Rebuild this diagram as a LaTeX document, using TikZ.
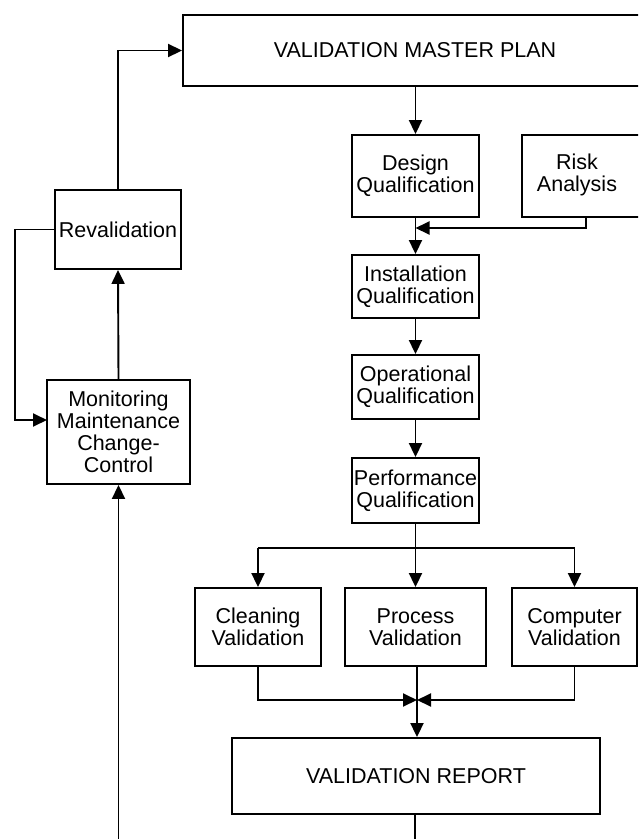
\documentclass[tikz,border=0pt]{standalone}
\usepackage{fontspec}
\setmainfont{Liberation Sans}
\usetikzlibrary{arrows.meta,calc}
\begin{document}
\begin{tikzpicture}[x=1pt,y=-1pt,
  box/.style={draw, line width=1.9pt, inner sep=0pt, align=center,
    font=\fontsize{21.5pt}{22pt}\selectfont},
  lbl/.style={inner sep=0pt, align=center, font=\fontsize{21.5pt}{22pt}\selectfont},
  ln/.style={line width=1.9pt},
  arr/.style={ln, -{Triangle[length=14pt,width=13pt]}}]
\useasboundingbox (0,0) rectangle (638,839);
\clip (0,0) rectangle (638,839);
% boxes
\node[box, minimum width=464pt, minimum height=71pt] (vmp) at (415,50.5) {VALIDATION MASTER PLAN};
\node[box, minimum width=127pt, minimum height=82pt] (design) at (415.5,176) {Design\\Qualification};
\node[box, minimum width=128pt, minimum height=82pt] (risk) at (586,176) {};
\node[lbl] (risktext) at (577,175) {Risk\\Analysis};
\node[box, minimum width=127pt, minimum height=63pt] (install) at (415.5,286.5) {Installation\\Qualification};
\node[box, minimum width=127pt, minimum height=64pt] (oper) at (415.5,387) {Operational\\Qualification};
\node[box, minimum width=127pt, minimum height=65pt] (perf) at (415.5,490.5) {Performance\\Qualification};
\node[box, minimum width=126pt, minimum height=78pt] (clean) at (258,627) {Cleaning\\Validation};
\node[box, minimum width=141pt, minimum height=78pt] (process) at (415.5,627) {Process\\Validation};
\node[box, minimum width=125pt, minimum height=78pt] (computer) at (574.5,627) {Computer\\Validation};
\node[box, minimum width=368pt, minimum height=76pt] (report) at (416,776) {VALIDATION REPORT};
\node[box, minimum width=143pt, minimum height=104pt] (monitor) at (118.5,432) {Monitoring\\Maintenance\\Change-\\Control};
\node[box, minimum width=126pt, minimum height=79pt] (reval) at (118,229.5) {Revalidation};
% helper coordinates
\coordinate (rj) at (415.5,228);
\coordinate (split) at (415.5,548);
\coordinate (merge) at (417,700);
\coordinate (loopR) at (415,860);
\coordinate (monIn) at (47,420);
\coordinate (revOut) at (15,229.5);
% main chain
\draw[arr] (vmp.south -| design.north) -- (design.north);
\draw[arr] (design.south) -- (install.north);
\draw[arr] (risk.south) |- (rj);
\draw[arr] (install.south) -- (oper.north);
\draw[arr] (oper.south) -- (perf.north);
\draw[ln] (perf.south) -- (split);
\draw[ln] (split -| clean.north) -- (split -| computer.north);
\draw[arr] (split -| clean.north) -- (clean.north);
\draw[arr] (split) -- (process.north);
\draw[arr] (split -| computer.north) -- (computer.north);
\draw[arr] (clean.south) |- (merge);
\draw[arr] (computer.south) |- (merge);
\draw[arr] (process.south -| merge) -- (merge |- report.north);
% feedback loop
\draw[arr] (report.south -| loopR) -- (loopR) -| (monitor.south);
\draw[arr] (monitor.north) -- (reval.south);
\draw[arr] (reval.north) |- (vmp.west);
\draw[arr] (reval.west) -- (revOut) |- (monIn);
\end{tikzpicture}
\end{document}
